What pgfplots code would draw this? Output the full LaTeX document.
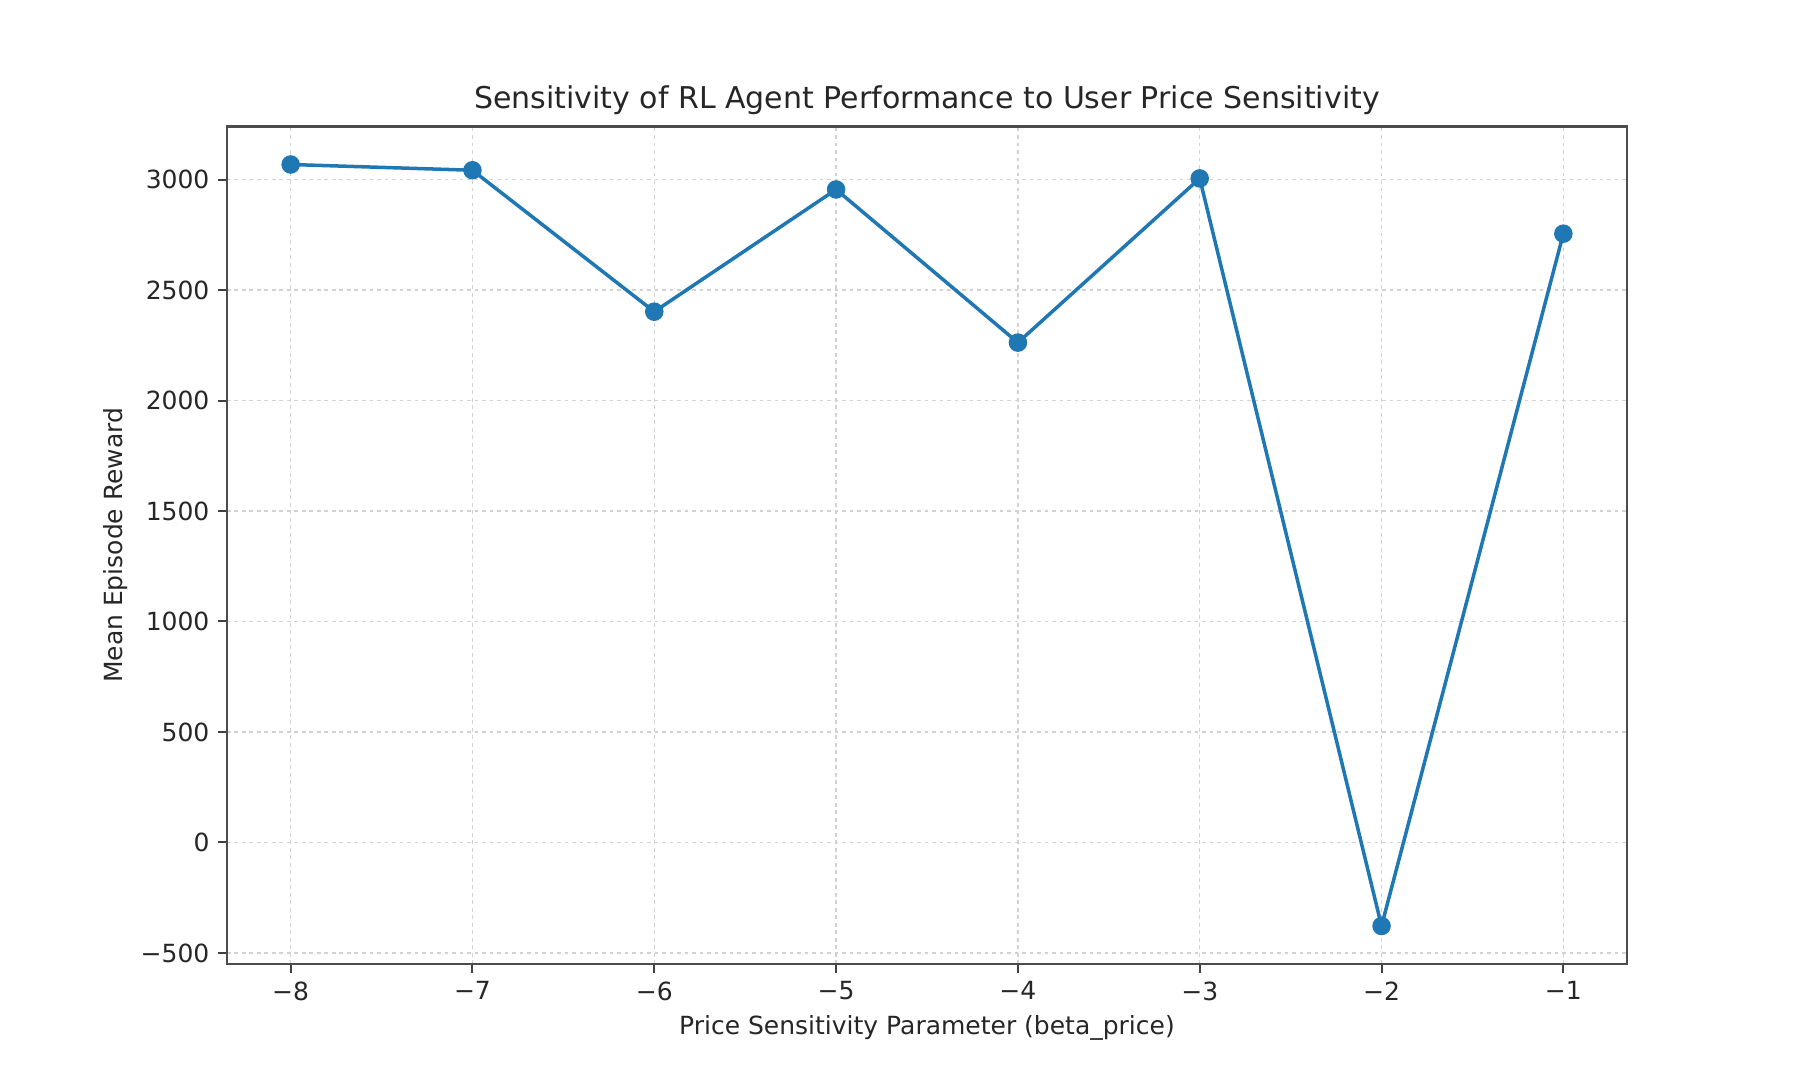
\documentclass[border=0pt]{standalone}
\usepackage{fontspec}
\setmainfont{DejaVu Sans}
\usepackage{pgfplots}
\pgfplotsset{compat=1.18}
\definecolor{mplblue}{HTML}{1F77B4}
\begin{document}
\begin{tikzpicture}
\useasboundingbox (-90.8pt,-46.4pt) rectangle (632pt,385.6pt);
\begin{axis}[
    at={(0,0)}, anchor=south west,
    scale only axis,
    width=560pt, height=335pt,
    xmin=-8.35, xmax=-0.65,
    ymin=-550, ymax=3240,
    xtick={-8,-7,-6,-5,-4,-3,-2,-1},
    xticklabels={−8,−7,−6,−5,−4,−3,−2,−1},
    ytick={-500,0,500,1000,1500,2000,2500,3000},
    yticklabels={−500,0,500,1000,1500,2000,2500,3000},
    xtick pos=left, ytick pos=left,
    tick align=outside,
    major tick length=3.5pt,
    every tick/.style={black!75, line width=0.8pt},
    axis line style={black!70, line width=1pt},
    grid=major,
    grid style={gray!35, line width=0.5pt, dash pattern=on 1.5pt off 1.5pt},
    ticklabel style={font=\fontsize{10}{12}\selectfont, text=black!85},
    title={Sensitivity of RL Agent Performance to User Price Sensitivity},
    title style={font=\fontsize{12}{14}\selectfont, text=black!85, at={(0.5,1)}, anchor=south, yshift=-5pt},
    xlabel={Price Sensitivity Parameter (beta\_price)},
    ylabel={Mean Episode Reward},
    label style={font=\fontsize{10}{12}\selectfont, text=black!85},
    xlabel style={at={(0.5,0)}, anchor=center, yshift=-25.5pt},
    ylabel style={at={(0,0.5)}, anchor=center, xshift=0pt, yshift=44.5pt},
]
\addplot[color=mplblue, line width=1.4pt, mark=*, mark size=3pt,
         mark options={fill=mplblue, draw=mplblue}]
    coordinates {
    (-8,3068)(-7,3042)(-6,2402)(-5,2955)(-4,2262)(-3,3005)(-2,-378)(-1,2755)
    };
\end{axis}
\end{tikzpicture}
\end{document}
